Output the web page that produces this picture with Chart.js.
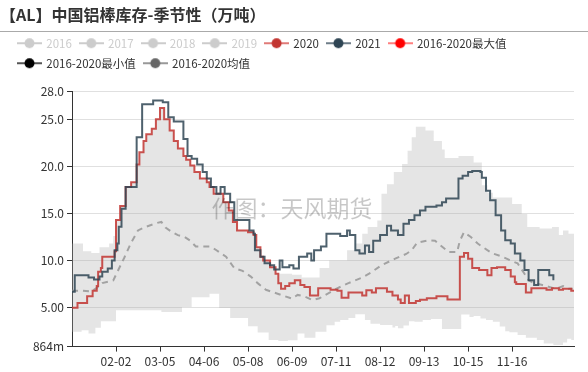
<!DOCTYPE html>
<html lang="zh-CN">
<head>
<meta charset="UTF-8">
<title>中国铝棒库存-季节性</title>
<script src="https://cdn.jsdelivr.net/npm/chart.js"></script>
<style>
  html, body { margin: 0; padding: 0; background: #fff; }
</style>
</head>
<body>
<canvas id="chart" width="588" height="372"></canvas>
<script>
const TITLE = '【AL】中国铝棒库存-季节性（万吨）';
const WATERMARK = '作图：天风期货';

// x 轴：按闰年逐日 MM-DD，共 366 个类目
const dayLabels = [];
for (let d = new Date(2020, 0, 1); d.getFullYear() === 2020; d.setDate(d.getDate() + 1)) {
  dayLabels.push(String(d.getMonth() + 1).padStart(2, '0') + '-' + String(d.getDate()).padStart(2, '0'));
}
const xTickDays = [32, 64, 96, 128, 160, 192, 224, 256, 288, 320];
const yTicks = [0.864, 5, 10, 15, 20, 25, 28];

// 数据：日序号(0 = 01-01) 与对应库存（万吨），每个值保持到下一个日期
const day2020 = [0, 4, 11, 15, 18, 19, 21, 22, 31, 32, 35, 39, 43, 47, 49, 52, 54, 58, 61, 64, 67, 71, 74, 77, 81, 83, 86, 89, 93, 98, 100, 103, 110, 114, 117, 120, 128, 132, 134, 137, 139, 144, 148, 150, 152, 155, 158, 162, 166, 169, 173, 179, 188, 193, 196, 201, 211, 214, 218, 221, 229, 233, 237, 239, 242, 245, 250, 253, 258, 265, 273, 282, 285, 288, 291, 296, 302, 305, 309, 315, 319, 322, 323, 330, 334, 345, 349, 354, 357, 363, 365];
const val2020 = [5.0, 5.5, 6.2, 6.8, 7.3, 8.8, 9.2, 10.4, 11.0, 14.3, 15.8, 17.8, 18.3, 20.2, 21.5, 22.7, 23.4, 24.0, 25.0, 26.2, 25.0, 23.8, 22.7, 21.9, 21.1, 20.7, 20.1, 19.4, 18.7, 18.3, 17.8, 17.1, 16.2, 15.3, 14.1, 13.2, 13.0, 12.7, 11.4, 10.4, 10.0, 9.3, 8.6, 7.6, 7.0, 7.3, 7.6, 7.9, 7.4, 7.2, 6.3, 7.07, 6.9, 6.8, 6.05, 6.6, 6.3, 6.85, 6.6, 7.07, 6.7, 6.3, 5.87, 5.5, 6.3, 5.5, 5.7, 5.84, 6.0, 6.2, 5.87, 10.4, 10.8, 10.2, 9.2, 9.0, 8.45, 9.2, 9.3, 9.0, 8.3, 7.7, 7.5, 6.6, 7.07, 6.9, 7.07, 6.9, 7.0, 6.8, 6.8];

const day2021 = [0, 2, 12, 16, 20, 22, 26, 29, 31, 33, 34, 36, 39, 47, 51, 59, 66, 70, 74, 81, 84, 87, 91, 95, 98, 101, 105, 108, 111, 115, 118, 129, 132, 133, 137, 140, 144, 147, 151, 153, 158, 161, 165, 171, 174, 176, 181, 185, 195, 200, 202, 206, 209, 213, 216, 219, 224, 229, 232, 237, 241, 245, 249, 253, 257, 265, 269, 272, 281, 284, 288, 291, 297, 298, 301, 304, 308, 312, 315, 319, 322, 326, 329, 332, 336, 339, 347, 350];
const val2021 = [6.7, 8.45, 8.2, 8.0, 8.3, 8.8, 9.15, 10.0, 11.1, 11.8, 13.6, 15.5, 17.8, 23.1, 26.6, 27.0, 26.8, 25.2, 24.75, 22.9, 21.1, 20.8, 20.2, 19.4, 18.7, 17.8, 17.1, 17.8, 17.1, 16.2, 14.3, 13.2, 12.85, 11.1, 10.4, 9.7, 9.5, 9.05, 10.0, 9.3, 9.5, 9.15, 10.4, 10.75, 10.0, 11.1, 11.5, 12.85, 12.6, 13.2, 12.7, 11.1, 10.75, 11.6, 10.9, 12.1, 12.7, 13.7, 13.2, 12.7, 13.9, 14.3, 14.8, 15.3, 15.7, 15.85, 16.2, 16.6, 18.7, 19.0, 19.4, 19.5, 19.4, 18.8, 17.4, 16.4, 14.8, 13.2, 12.15, 11.8, 10.75, 10.0, 9.0, 7.9, 7.4, 9.0, 8.45, 7.9];

const dayMax = [0, 8, 14, 20, 27, 30, 32, 35, 39, 43, 47, 49, 52, 54, 58, 61, 64, 67, 71, 74, 77, 81, 83, 86, 89, 93, 98, 100, 103, 110, 114, 117, 120, 128, 132, 134, 137, 139, 144, 148, 160, 167, 180, 187, 200, 206, 211, 215, 222, 225, 229, 234, 240, 244, 247, 250, 257, 263, 269, 271, 281, 292, 298, 302, 306, 320, 327, 331, 340, 349, 354, 357, 361, 365];
const valMax = [11.8, 11.0, 10.8, 11.4, 11.8, 12.6, 14.3, 15.8, 17.8, 18.3, 20.2, 21.5, 22.7, 23.4, 24.0, 25.0, 26.2, 25.0, 23.8, 22.7, 21.9, 21.1, 20.7, 20.1, 19.4, 18.7, 18.3, 17.8, 17.1, 16.2, 15.3, 14.1, 13.2, 13.0, 12.7, 11.4, 10.4, 10.0, 9.3, 8.6, 8.5, 8.2, 9.2, 10.0, 11.1, 11.8, 12.85, 13.55, 14.25, 17.1, 18.1, 19.4, 20.25, 21.65, 23.1, 24.2, 23.8, 22.7, 21.8, 20.9, 21.1, 20.4, 18.0, 17.2, 16.7, 16.0, 14.95, 13.55, 13.4, 13.55, 12.7, 13.2, 12.85, 12.85];

const dayMin = [0, 7, 12, 17, 21, 32, 65, 80, 87, 100, 107, 115, 128, 135, 143, 150, 157, 164, 169, 177, 185, 191, 195, 201, 206, 213, 217, 224, 233, 235, 237, 241, 245, 249, 255, 261, 269, 283, 289, 292, 297, 301, 306, 311, 315, 318, 324, 330, 338, 343, 350, 357, 360, 363, 365];
const valMin = [2.44, 2.6, 2.26, 2.86, 3.56, 4.72, 4.55, 5.07, 6.1, 6.47, 4.97, 3.9, 3.03, 2.37, 1.56, 1.45, 1.55, 2.26, 1.8, 2.44, 3.14, 3.5, 3.68, 3.9, 4.3, 3.7, 3.3, 3.15, 2.9, 3.05, 2.8, 3.1, 3.56, 3.5, 3.7, 3.8, 2.72, 4.26, 4.0, 4.1, 3.84, 3.68, 3.5, 3.0, 2.5, 2.4, 2.1, 1.8, 1.56, 1.2, 1.03, 1.3, 1.7, 1.56, 1.56];

const dayMean = [0, 8, 14, 18, 22, 30, 34, 38, 43, 48, 54, 62, 65, 68, 72, 77, 82, 86, 90, 100, 104, 112, 118, 124, 130, 135, 141, 149, 155, 160, 164, 169, 175, 180, 186, 192, 201, 211, 217, 225, 235, 243, 247, 251, 259, 264, 268, 274, 280, 282, 285, 290, 295, 302, 306, 313, 319, 324, 329, 332, 336, 342, 347, 352, 357, 361, 364];
const valMean = [6.8, 6.8, 6.7, 7.1, 7.6, 7.9, 9.1, 10.3, 11.9, 13.2, 13.6, 14.0, 14.1, 13.5, 13.1, 12.7, 12.5, 12.1, 11.5, 11.5, 11.2, 10.4, 9.2, 8.9, 8.3, 7.6, 6.9, 6.5, 6.2, 5.95, 6.35, 6.2, 5.8, 6.0, 6.5, 7.0, 7.6, 8.2, 8.7, 9.5, 10.2, 10.7, 11.1, 11.9, 12.15, 12.1, 11.6, 10.9, 10.9, 12.1, 13.0, 12.5, 11.8, 11.1, 10.75, 10.4, 10.0, 9.7, 8.6, 7.9, 7.6, 7.4, 7.2, 7.0, 7.3, 7.0, 7.0];

function pts(days, vals) {
  return days.map((d, i) => ({ x: dayLabels[d], y: vals[i] }));
}

function fmtY(v) {
  if (v < 1) return Math.round(v * 1000) + 'm';
  if (v < 10) return v.toFixed(2);
  return v.toFixed(1);
}

// 图例图标：一段线 + 圆点
function makeIcon(lineColor, dotColor) {
  const c = document.createElement('canvas');
  c.width = 25; c.height = 14;
  const g = c.getContext('2d');
  g.strokeStyle = lineColor;
  g.lineWidth = 2;
  g.beginPath(); g.moveTo(0, 7); g.lineTo(25, 7); g.stroke();
  g.fillStyle = dotColor;
  g.beginPath(); g.arc(12.5, 7, 5, 0, Math.PI * 2); g.fill();
  return c;
}

const legendLine = ['#ccc', '#ccc', '#ccc', '#ccc', '#e07b78', '#6e7d88', '#ff7f7f', '#555', '#999'];
const legendDot = ['#ccc', '#ccc', '#ccc', '#ccc', '#c23531', '#2f4554', '#ff0000', '#000000', '#666666'];
const legendOff = [true, true, true, true, false, false, false, false, false];

const titlePlugin = {
  id: 'titleAndMark',
  afterDatasetsDraw(chart) {
    const ctx = chart.ctx;
    ctx.save();
    ctx.font = '23px "Noto Sans CJK SC", sans-serif';
    ctx.fillStyle = 'rgba(0,0,0,0.22)';
    ctx.textAlign = 'center';
    ctx.textBaseline = 'middle';
    ctx.fillText(WATERMARK, 292, 208);
    ctx.restore();
  },
  afterDraw(chart) {
    const ctx = chart.ctx;
    ctx.save();
    ctx.font = 'bold 16px "Noto Sans CJK SC", sans-serif';
    ctx.fillStyle = '#333';
    ctx.textAlign = 'left';
    ctx.textBaseline = 'middle';
    ctx.fillText(TITLE, 0, 15);
    ctx.strokeStyle = '#aaa';
    ctx.lineWidth = 1;
    ctx.beginPath(); ctx.moveTo(0, 31.5); ctx.lineTo(588, 31.5); ctx.stroke();
    ctx.restore();
  }
};

Chart.defaults.font.family = '"Noto Sans CJK SC", "Noto Sans", sans-serif';
Chart.defaults.font.size = 12;
Chart.defaults.color = '#333';

const lineBase = { pointRadius: 0, tension: 0, borderWidth: 2 };

new Chart(document.getElementById('chart'), {
  type: 'line',
  data: {
    labels: dayLabels,
    datasets: [
      { label: '2016', data: [], hidden: true },
      { label: '2017', data: [], hidden: true },
      { label: '2018', data: [], hidden: true },
      { label: '2019', data: [], hidden: true },
      { ...lineBase, label: '2020', data: pts(day2020, val2020), borderColor: 'rgba(194,53,49,0.85)', stepped: true, order: 1 },
      { ...lineBase, label: '2021', data: pts(day2021, val2021), borderColor: 'rgba(47,69,84,0.85)', stepped: true, order: 0 },
      { ...lineBase, label: '2016-2020最大值', data: pts(dayMax, valMax), borderColor: 'rgba(0,0,0,0)', borderWidth: 0,
        backgroundColor: 'rgba(170,170,170,0.3)', fill: '+1', stepped: true, order: 3 },
      { ...lineBase, label: '2016-2020最小值', data: pts(dayMin, valMin), borderColor: 'rgba(0,0,0,0)', borderWidth: 0,
        stepped: true, order: 4 },
      { ...lineBase, label: '2016-2020均值', data: pts(dayMean, valMean), borderColor: 'rgba(150,150,150,0.85)',
        borderDash: [6, 5], order: 2 }
    ]
  },
  options: {
    responsive: false,
    animation: false,
    devicePixelRatio: 1,
    layout: { padding: { top: 29, left: 10, right: 14, bottom: 0 } },
    plugins: {
      tooltip: { enabled: false },
      subtitle: { display: true, text: '', padding: 0, font: { size: 12, lineHeight: 1 }, weight: 500 },
      legend: {
        position: 'top',
        align: 'start',
        labels: {
          usePointStyle: true,
          pointStyleWidth: 22,
          padding: 8.5,
          font: { size: 11.5 },
          generateLabels(chart) {
            return chart.data.datasets.map((ds, i) => ({
              text: ds.label,
              datasetIndex: i,
              hidden: false,
              pointStyle: makeIcon(legendLine[i], legendDot[i]),
              fontColor: legendOff[i] ? '#ccc' : '#333',
              fillStyle: legendDot[i],
              strokeStyle: legendDot[i],
              lineWidth: 0
            }));
          }
        }
      }
    },
    scales: {
      x: {
        type: 'category',
        offset: false,
        grid: { drawOnChartArea: false, drawTicks: true, tickLength: 5, tickColor: '#333' },
        border: { color: '#333' },
        ticks: { autoSkip: false, maxRotation: 0, padding: 3, color: '#333' },
        afterBuildTicks(scale) { scale.ticks = xTickDays.map(v => ({ value: v })); }
      },
      y: {
        type: 'linear',
        min: 0.864,
        max: 28,
        grid: {
          color: c => (c.tick && c.tick.value < 1 ? 'rgba(0,0,0,0)' : '#e0e0e0'),
          tickLength: 5,
          tickColor: '#333'
        },
        border: { color: '#333' },
        ticks: { padding: 3, color: '#333', callback: v => fmtY(v) },
        afterBuildTicks(scale) { scale.ticks = yTicks.map(v => ({ value: v })); },
        afterFit(scale) { scale.width = 62; }
      }
    }
  },
  plugins: [titlePlugin]
});
</script>
</body>
</html>
